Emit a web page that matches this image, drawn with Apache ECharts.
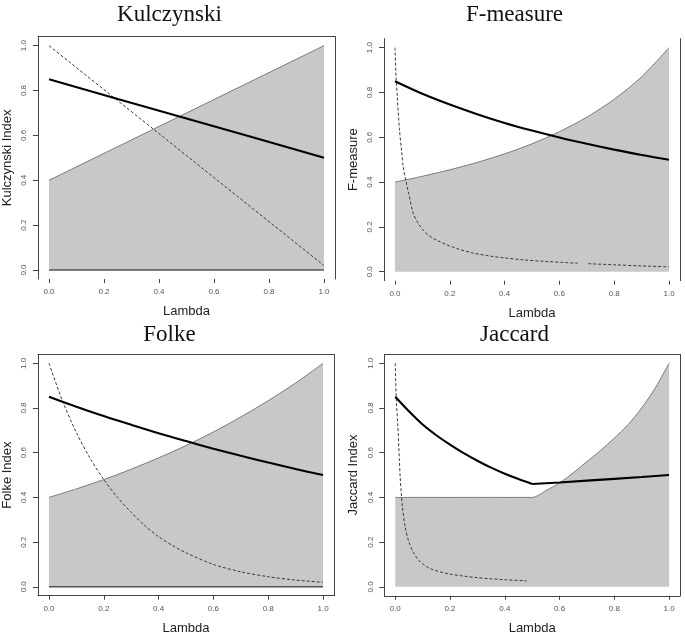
<!DOCTYPE html>
<html>
<head>
<meta charset="utf-8">
<script src="https://cdn.jsdelivr.net/npm/echarts@6/dist/echarts.min.js"></script>
<style>
html,body{margin:0;padding:0;background:#fff;}
#chart{width:685px;height:637px;}
</style>
</head>
<body>
<div id="chart"></div>
<script>
// ---- data ----
const titles = ['Kulczynski', 'F-measure', 'Folke', 'Jaccard'];
const yNames = ['Kulczynski Index', 'F-measure', 'Folke Index', 'Jaccard Index'];
const xName = 'Lambda';
const xTicks = [0, 0.2, 0.4, 0.6, 0.8, 1.0];
const yTicks = [0, 0.2, 0.4, 0.6, 0.8, 1.0];

// Kulczynski
const kulLambda = [0, 0.25, 0.5, 0.75, 1];
const kulArea   = [0.40, 0.55, 0.70, 0.85, 1.00];
const kulSolid  = [0.85, 0.762, 0.675, 0.588, 0.50];
const kulDashed = [1.00, 0.755, 0.51, 0.265, 0.02];

// F-measure
const fLambda = [0, 0.1, 0.2, 0.3, 0.4, 0.5, 0.6, 0.7, 0.8, 0.9, 1.0];
const fArea   = [0.40, 0.426, 0.455, 0.488, 0.526, 0.571, 0.625, 0.69, 0.77, 0.87, 1.00];
const fSolid  = [0.85, 0.794, 0.746, 0.703, 0.664, 0.63, 0.599, 0.571, 0.545, 0.521, 0.50];
const fDashLambda = [0, 0.004, 0.0085, 0.016, 0.024, 0.03, 0.04, 0.05, 0.067, 0.085, 0.103, 0.125, 0.152, 0.19, 0.225, 0.28, 0.346, 0.4, 0.468, 0.55, 0.62, 0.667, 0.685, 0.705, 0.8, 0.9, 1.0];
const fDashed     = [1.00, 0.87, 0.78, 0.64, 0.54, 0.47, 0.405, 0.35, 0.26, 0.215, 0.186, 0.16, 0.141, 0.12, 0.104, 0.085, 0.07, 0.062, 0.053, 0.046, 0.041, 0.038, null, 0.036, 0.031, 0.026, 0.022];

// Folke
const foLambda = [0, 0.1, 0.2, 0.3, 0.4, 0.5, 0.6, 0.7, 0.8, 0.9, 1.0];
const foArea   = [0.40, 0.438, 0.48, 0.526, 0.577, 0.632, 0.693, 0.76, 0.833, 0.912, 1.00];
const foSolid  = [0.85, 0.806, 0.764, 0.725, 0.687, 0.652, 0.618, 0.586, 0.556, 0.527, 0.50];
const foDashLambda = [0, 0.05, 0.1, 0.15, 0.2, 0.25, 0.3, 0.35, 0.4, 0.45, 0.5, 0.6, 0.7, 0.8, 0.9, 1.0];
const foDashed     = [1.00, 0.83, 0.69, 0.575, 0.48, 0.40, 0.333, 0.273, 0.224, 0.185, 0.152, 0.10, 0.067, 0.045, 0.03, 0.02];

// Jaccard
const jaAreaLambda = [0, 0.45, 0.5, 0.55, 0.6, 0.65, 0.7, 0.75, 0.8, 0.85, 0.9, 0.95, 1.0];
const jaArea       = [0.40, 0.40, 0.40, 0.43, 0.465, 0.51, 0.56, 0.61, 0.665, 0.725, 0.80, 0.89, 1.00];
const jaSolidLambda = [0, 0.05, 0.1, 0.15, 0.2, 0.25, 0.3, 0.35, 0.4, 0.45, 0.5, 0.6, 0.7, 0.8, 0.9, 1.0];
const jaSolid       = [0.85, 0.785, 0.726, 0.678, 0.636, 0.598, 0.564, 0.533, 0.506, 0.482, 0.46, 0.467, 0.475, 0.483, 0.491, 0.50];
const jaDashLambda = [0, 0.004, 0.009, 0.015, 0.018, 0.022, 0.026, 0.036, 0.05, 0.067, 0.085, 0.103, 0.13, 0.164, 0.2, 0.25, 0.3, 0.35, 0.4, 0.48];
const jaDashed     = [1.00, 0.83, 0.73, 0.57, 0.49, 0.42, 0.36, 0.27, 0.20, 0.152, 0.12, 0.10, 0.08, 0.067, 0.057, 0.048, 0.041, 0.036, 0.032, 0.027];

// zero baseline drawn in the left-hand panels
const baseLambda = [0, 1];
const baseValues = [0, 0];

// ---- build chart ----
function pts(xs, ys) { return xs.map((x, i) => [x, ys[i] === null ? '-' : ys[i]]); }

const grids = [
  {left: 38,  top: 36.7, width: 297, height: 242.3},
  {left: 384, top: 38.7, width: 296, height: 242},
  {left: 38,  top: 354.4, width: 296, height: 241.3},
  {left: 384.3, top: 354.3, width: 295.7, height: 241.5}
];
// which frame sides are visible: [bottom, top, left, right]
const frames = [
  [false, true, true, true],
  [false, false, true, true],
  [true, true, true, true],
  [true, true, true, true]
];
const axisColor = '#444';
const xAxes = [], yAxes = [], series = [], graphics = [];

grids.forEach((g, i) => {
  const f = frames[i];
  xAxes.push({
    type: 'value', gridIndex: i, position: 'bottom', min: -0.04, max: 1.04,
    axisLine: {show: f[0], onZero: false, lineStyle: {color: axisColor, width: 1}},
    axisTick: {show: true, length: 4, customValues: xTicks, lineStyle: {color: axisColor}},
    axisLabel: {show: true, customValues: xTicks, formatter: v => v.toFixed(1), fontSize: 8, color: '#555', margin: 9, fontFamily: 'Liberation Sans'},
    splitLine: {show: false},
    name: xName, nameLocation: 'middle', nameGap: 26,
    nameTextStyle: {fontSize: 13, color: '#222', fontFamily: 'Liberation Sans'}
  });
  xAxes.push({
    type: 'value', gridIndex: i, position: 'top', min: -0.04, max: 1.04,
    axisLine: {show: f[1], onZero: false, lineStyle: {color: axisColor, width: 1}},
    axisTick: {show: false}, axisLabel: {show: false}, splitLine: {show: false}
  });
  yAxes.push({
    type: 'value', gridIndex: i, position: 'left', min: -0.04, max: 1.04,
    axisLine: {show: f[2], onZero: false, lineStyle: {color: axisColor, width: 1}},
    axisTick: {show: true, length: 5, customValues: yTicks, lineStyle: {color: axisColor}},
    axisLabel: {show: true, customValues: yTicks, formatter: v => v.toFixed(1), rotate: 90, fontSize: 8, color: '#555', margin: 10, fontFamily: 'Liberation Sans'},
    splitLine: {show: false},
    name: yNames[i], nameLocation: 'middle', nameRotate: 90, nameGap: 24,
    nameTextStyle: {fontSize: 13, color: '#222', fontFamily: 'Liberation Sans'}
  });
  yAxes.push({
    type: 'value', gridIndex: i, position: 'right', min: -0.04, max: 1.04,
    axisLine: {show: f[3], onZero: false, lineStyle: {color: axisColor, width: 1}},
    axisTick: {show: false}, axisLabel: {show: false}, splitLine: {show: false}
  });
  graphics.push({
    type: 'text', x: i % 2 === 0 ? 169.5 : 514.5, y: i < 2 ? 3 : 323,
    style: {text: titles[i], font: '23px "Liberation Serif"', fill: '#111', align: 'center', verticalAlign: 'top'}
  });
});

const common = {type: 'line', symbol: 'none', silent: true, animation: false};
function line(i, xs, ys, extra) {
  series.push(Object.assign({}, common, {xAxisIndex: 2 * i, yAxisIndex: 2 * i, data: pts(xs, ys)}, extra));
}
const SM = 0.3;
const areaOpt = {z: 1, smooth: SM, lineStyle: {color: '#7a7a7a', width: 1}, areaStyle: {color: '#c8c8c8', opacity: 1, origin: 'auto'}};
const baseOpt = {z: 2, smooth: false, lineStyle: {color: '#555', width: 1.5}};
const dashOpt = {z: 3, smooth: SM, connectNulls: false, lineStyle: {color: '#3a3a3a', width: 1, type: [3, 2]}};
const solidOpt = {z: 4, smooth: SM, lineStyle: {color: '#000', width: 2.1}};
const straight = {smooth: false};

// Kulczynski (straight lines)
line(0, kulLambda, kulArea, Object.assign({}, areaOpt, straight));
line(0, baseLambda, baseValues, baseOpt);
line(0, kulLambda, kulDashed, Object.assign({}, dashOpt, straight));
line(0, kulLambda, kulSolid, Object.assign({}, solidOpt, straight));
// F-measure
line(1, fLambda, fArea, areaOpt);
line(1, fDashLambda, fDashed, dashOpt);
line(1, fLambda, fSolid, solidOpt);
// Folke
line(2, foLambda, foArea, areaOpt);
line(2, baseLambda, baseValues, baseOpt);
line(2, foDashLambda, foDashed, dashOpt);
line(2, foLambda, foSolid, solidOpt);
// Jaccard (solid line has a corner at lambda = 0.5)
const kink = jaSolidLambda.indexOf(0.5);
line(3, jaAreaLambda, jaArea, areaOpt);
line(3, jaDashLambda, jaDashed, dashOpt);
line(3, jaSolidLambda.slice(0, kink + 1), jaSolid.slice(0, kink + 1), solidOpt);
line(3, jaSolidLambda.slice(kink), jaSolid.slice(kink), Object.assign({}, solidOpt, straight));

const chart = echarts.init(document.getElementById('chart'), null, {renderer: 'canvas'});
chart.setOption({
  backgroundColor: '#fff',
  animation: false,
  grid: grids.map(g => Object.assign({containLabel: false, show: false}, g)),
  xAxis: xAxes,
  yAxis: yAxes,
  series: series,
  graphic: graphics
});
</script>
</body>
</html>
